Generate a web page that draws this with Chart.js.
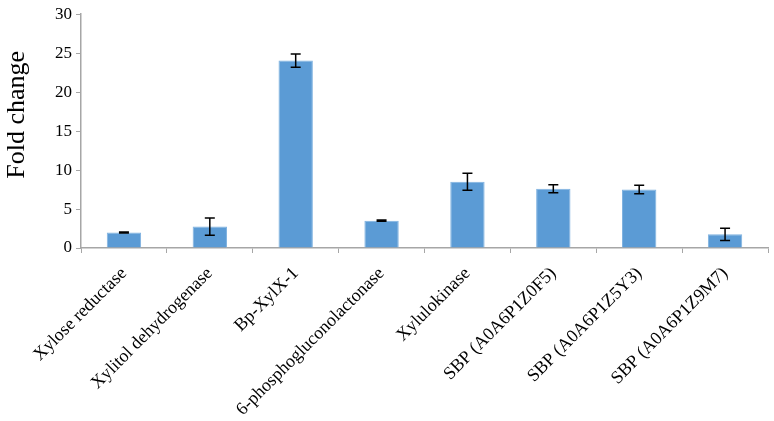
<!DOCTYPE html>
<html>
<head>
<meta charset="utf-8">
<script src="https://cdn.jsdelivr.net/npm/chart.js@4/dist/chart.umd.min.js"></script>
<style>
  html, body { margin: 0; padding: 0; background: #fff; }
  #wrap { width: 774px; height: 421px; }
</style>
</head>
<body>
<div id="wrap"><canvas id="foldChart"></canvas></div>
<script>
// data
const genes = ['Xylose reductase', 'Xylitol dehydrogenase', 'Bp-XylX-1', '6-phosphogluconolactonase',
               'Xylulokinase', 'SBP (A0A6P1Z0F5)', 'SBP (A0A6P1Z5Y3)', 'SBP (A0A6P1Z9M7)'];
const foldChange = [2.0, 2.75, 24.05, 3.5, 8.5, 7.6, 7.5, 1.75];
const errors = [0.06, 1.1, 0.85, 0.08, 1.1, 0.5, 0.55, 0.8];
const yTicks = [0, 5, 10, 15, 20, 25, 30];

const serif = "'Liberation Serif', 'Times New Roman', Times, serif";

// simple error bar drawing (chart.js has none built in)
const errorBars = {
    id: 'errorBars',
    afterDatasetsDraw(chart) {
        const ctx = chart.ctx;
        const yScale = chart.scales.y;
        const meta = chart.getDatasetMeta(0);
        ctx.save();
        ctx.strokeStyle = '#000';
        ctx.lineWidth = 1.5;
        meta.data.forEach(function (bar, i) {
            const x = bar.x;
            const top = yScale.getPixelForValue(foldChange[i] + errors[i]);
            const bot = yScale.getPixelForValue(foldChange[i] - errors[i]);
            ctx.beginPath();
            ctx.moveTo(x, top); ctx.lineTo(x, bot);
            ctx.moveTo(x - 5, top); ctx.lineTo(x + 5, top);
            ctx.moveTo(x - 5, bot); ctx.lineTo(x + 5, bot);
            ctx.stroke();
        });
        ctx.restore();
    }
};

const chart = new Chart(document.getElementById('foldChart').getContext('2d'), {
    type: 'bar',
    data: {
        labels: genes,
        datasets: [{
            label: 'Fold change',
            data: foldChange,
            backgroundColor: '#5B9BD5',
            borderColor: '#7fb2e0',
            borderWidth: 1,
            categoryPercentage: 0.8,
            barPercentage: 0.5
        }]
    },
    options: {
        responsive: true,
        maintainAspectRatio: false,
        animation: false,
        layout: { padding: { top: 4, right: 6, left: 2, bottom: 0 } },
        plugins: {
            legend: { display: false },
            tooltip: { enabled: false }
        },
        scales: {
            x: {
                grid: { display: true, drawOnChartArea: false, offset: true, color: '#a6a6a6', tickLength: 5 },
                border: { color: '#a6a6a6', width: 1.5 },
                ticks: {
                    minRotation: 45, maxRotation: 45, autoSkip: false,
                    color: '#000',
                    padding: 10,
                    font: { family: serif, size: 18 }
                },
                afterFit(scale) {
                    scale.paddingLeft = 0;
                    scale.paddingRight = 0;
                    scale.height = 173;
                }
            },
            y: {
                min: 0, max: 30,
                grid: { display: true, drawOnChartArea: false, color: '#a6a6a6', tickLength: 5 },
                border: { color: '#a6a6a6', width: 1.5 },
                afterBuildTicks(scale) {
                    scale.ticks = yTicks.map(v => ({ value: v }));
                },
                ticks: {
                    color: '#000',
                    padding: 4,
                    font: { family: serif, size: 17 }
                },
                title: {
                    display: true,
                    // leading spaces nudge the title up like in the original
                    text: '     Fold change',
                    color: '#000',
                    padding: { top: 0, bottom: 4 },
                    font: { family: serif, size: 26 }
                },
                afterFit(scale) {
                    scale.width = 79;
                }
            }
        }
    },
    plugins: [errorBars]
});
</script>
</body>
</html>
